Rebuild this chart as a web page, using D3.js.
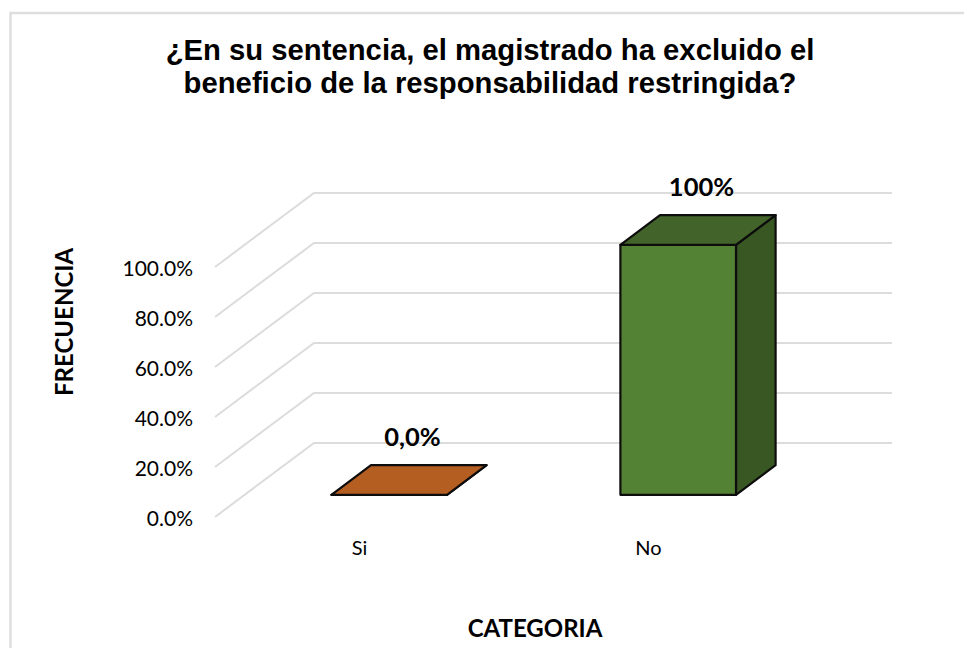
<!DOCTYPE html>
<meta charset="utf-8">
<head>
  <title>Responsabilidad restringida</title>
</head>

<style>
html, body { margin: 0; background: #fff; }
text { fill: #000; }
.title { font: bold 29.25px "Liberation Sans", Arial, sans-serif; text-anchor: middle; }
.small { font: 20px Lato, sans-serif; }
.bold { font: bold 24px Lato, sans-serif; text-anchor: middle; }
.value { font: bold 25.5px Lato, sans-serif; text-anchor: middle; }
.tick text { font: 21px Lato, sans-serif; }
</style>

<body>
  <svg width="964" height="648"></svg>

  <script src="https://cdnjs.cloudflare.com/ajax/libs/d3/7.8.5/d3.min.js"></script>

  <script>
var categories = ['Si', 'No'];
var values = [0, 1];
var valueLabels = ['0,0%', '100%'];
var barColors = ['#b55e22', '#548235'];
var barTops = ['#b55e22', '#42632a'];
var barSides = ['#8a481a', '#385723'];
var yTicks = [0, 0.2, 0.4, 0.6, 0.8, 1];

var svg = d3.select('svg');

// chart frame
svg.append('rect')
  .attr('x', 10.5).attr('y', 13)
  .attr('width', 960).attr('height', 660)
  .attr('fill', '#fff')
  .attr('stroke', '#dedede')
  .attr('stroke-width', 2.5);

var x = d3.scaleBand()
  .domain(categories)
  .range([215, 793])
  .paddingInner(0.6)
  .paddingOuter(0.3);

var y = d3.scaleLinear().domain([0, 1]).range([517, 267]);

// fake 3d: d goes from the front of the floor (0) to the back wall (1)
var depthX = 99, depthY = -74;
var barFront = 0.3, barBack = 0.7;

function pt(px, v, d) {
  return [px + d * depthX, y(v) + d * depthY];
}

// Gridlines
var line = d3.line();
svg.append('g').selectAll('path')
  .data(yTicks)
  .join('path')
  .attr('d', function(t) {
    return line([pt(x.range()[0], t, 0), pt(x.range()[0], t, 1), pt(x.range()[1], t, 1)]);
  })
  .attr('fill', 'none')
  .attr('stroke', '#dcdcdc')
  .attr('stroke-width', 2);

// Y axis
var yAxis = d3.axisLeft(y)
  .tickValues(yTicks)
  .tickFormat(d3.format('.1%'))
  .tickSize(0)
  .tickPadding(22);

svg.append('g')
  .attr('transform', 'translate(215,2)')
  .call(yAxis)
  .call(function(g) { g.select('.domain').remove(); })
  .selectAll('text').attr('fill', '#000');

// Bars
var bars = svg.append('g').selectAll('g')
  .data(categories)
  .join('g')
  .attr('stroke', '#0d0d0d')
  .attr('stroke-width', 2.2)
  .attr('stroke-linejoin', 'round');

function face(fn, fill) {
  bars.append('path')
    .attr('d', function(c, i) { return line(fn(x(c), x(c) + x.bandwidth(), values[i])) + 'Z'; })
    .attr('fill', function(c, i) { return fill[i]; });
}

// side
face(function(l, r, v) {
  return [pt(r, 0, barFront), pt(r, 0, barBack), pt(r, v, barBack), pt(r, v, barFront)];
}, barSides);
// front
face(function(l, r, v) {
  return [pt(l, 0, barFront), pt(r, 0, barFront), pt(r, v, barFront), pt(l, v, barFront)];
}, barColors);
// top
face(function(l, r, v) {
  return [pt(l, v, barFront), pt(r, v, barFront), pt(r, v, barBack), pt(l, v, barBack)];
}, barTops);

// Value labels
svg.append('g').selectAll('text')
  .data(categories)
  .join('text')
  .attr('class', 'value')
  .attr('x', function(c) { return x(c) + x.bandwidth() / 2 + 53; })
  .attr('y', function(c, i) { return y(values[i]) - 71.5; })
  .text(function(c, i) { return valueLabels[i]; });

// Category labels
svg.append('g').selectAll('text')
  .data(categories)
  .join('text')
  .attr('class', 'small')
  .attr('text-anchor', 'middle')
  .attr('x', function(c) { return x(c) + x.bandwidth() / 2; })
  .attr('y', 555)
  .text(function(c) { return c; });

// Titles
svg.append('text').attr('class', 'title').attr('x', 490).attr('y', 60)
  .text('¿En su sentencia, el magistrado ha excluido el');
svg.append('text').attr('class', 'title').attr('x', 490).attr('y', 93)
  .text('beneficio de la responsabilidad restringida?');

svg.append('text').attr('class', 'bold').attr('x', 535).attr('y', 637).text('CATEGORIA');
svg.append('text').attr('class', 'bold')
  .attr('transform', 'translate(73,322) rotate(-90)')
  .text('FRECUENCIA');
  </script>
</body>
</html>
